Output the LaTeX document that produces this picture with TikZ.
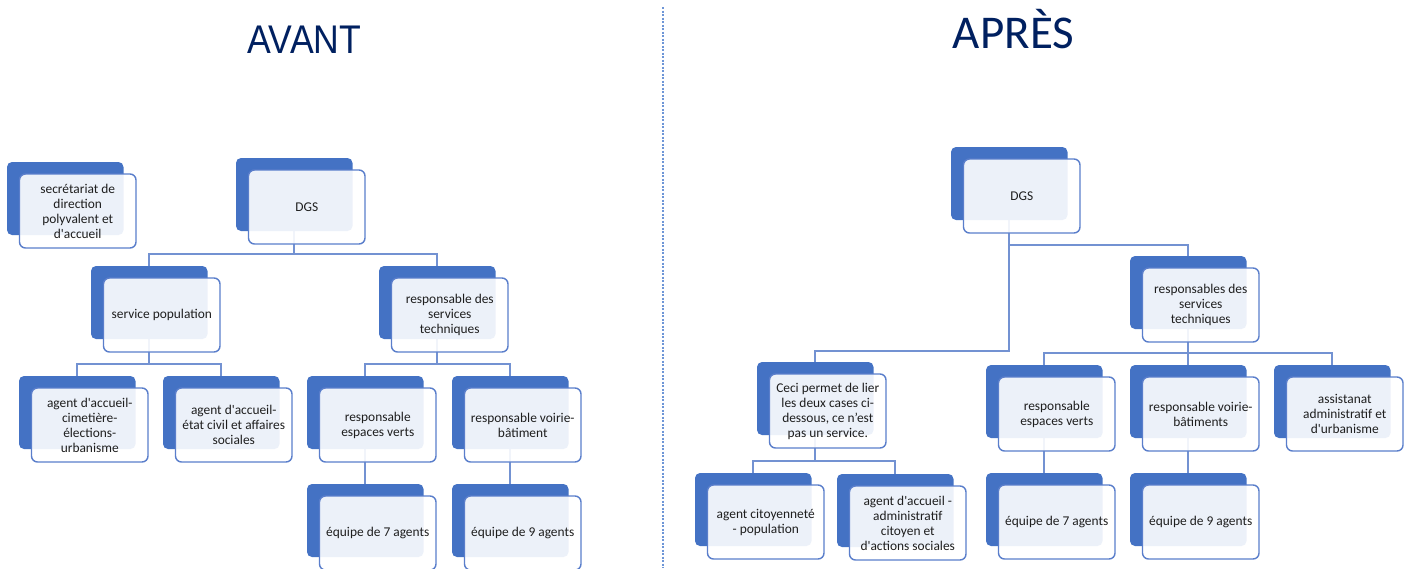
\documentclass[tikz,border=0pt]{standalone}
\usepackage{fontspec}
\setmainfont{Carlito}
\newfontfamily\titlefont{Liberation Sans}[FakeStretch=0.89]
\usetikzlibrary{backgrounds}
\definecolor{accent}{RGB}{68,114,196}
\definecolor{frontline}{RGB}{90,126,203}
\definecolor{conn}{RGB}{115,146,210}
\definecolor{navy}{RGB}{0,32,96}
\definecolor{txt}{RGB}{30,30,30}
\definecolor{divider}{RGB}{110,150,215}
\newcommand\orgbox[4]{%
  \node[backbox] (#1) at (#2,#3) {};
  \node[frontbox] (#1f) at ([xshift=12.5pt,yshift=-12pt]#1.north west) {#4};
}
\begin{document}
\begin{tikzpicture}[x=1pt,y=-1pt,
  backbox/.style={draw=none,fill=accent,rounded corners=5pt,minimum width=116.5pt,minimum height=73pt,anchor=north west,inner sep=0pt,outer sep=0pt},
  frontbox/.style={draw=frontline,line width=1.4pt,fill=white,fill opacity=0.9,text opacity=1,rounded corners=6pt,minimum width=116.5pt,minimum height=74pt,anchor=north west,inner sep=0pt,outer sep=0pt,text=txt,font=\fontsize{13.4}{15}\selectfont,align=center},
  link/.style={draw=conn,line width=1.6pt},
  title/.style={text=navy,anchor=base,inner sep=0pt}]
\useasboundingbox (0,0) rectangle (1411,568);

% titles and divider
\node[title,font=\titlefont\fontsize{40}{40}\selectfont] (avant) at (304.5,53) {AVANT};
\node[title,font=\fontsize{47}{47}\selectfont] (apres) at (1013.5,48) {APRÈS};
\coordinate (divtop) at (663,7);
\coordinate (divbot) at (663,568);
\draw[divider,line width=1.2pt,dash pattern=on 2pt off 1.5pt] (divtop) -- (divbot);

% AVANT
\orgbox{secL}{7}{162}{secrétariat de\\direction\\polyvalent et\\d\textquotesingle{}accueil}
\orgbox{dgsL}{236}{158}{DGS}
\orgbox{popL}{91}{266}{service population}
\orgbox{rstL}{379}{266}{responsable des\\services\\techniques}
\orgbox{agA}{19}{376}{agent d\textquotesingle{}accueil-\\cimetière-\\élections-\\urbanisme}
\orgbox{agB}{163}{376}{agent d\textquotesingle{}accueil-\\état civil et affaires\\sociales}
\orgbox{revL}{307}{376}{responsable\\espaces verts}
\orgbox{rvbL}{452}{376}{responsable voirie-\\bâtiment}
\orgbox{eqsL}{307}{484}{équipe de 7 agents}
\orgbox{eqnL}{452}{484}{équipe de 9 agents}

% APRES
\orgbox{dgsR}{951}{147}{DGS}
\orgbox{rstR}{1130}{256}{responsables des\\services\\techniques}
\orgbox{ceci}{757}{362}{Ceci permet de lier\\les deux cases ci-\\dessous, ce n’est\\pas un service.}
\orgbox{cit}{695}{473}{agent citoyenneté\\- population}
\orgbox{acc}{837}{474}{agent d\textquotesingle{}accueil -\\administratif\\citoyen et\\d\textquotesingle{}actions sociales}
\orgbox{revR}{986}{365}{responsable\\espaces verts}
\orgbox{rvbR}{1130}{365}{responsable voirie-\\bâtiments}
\orgbox{asR}{1274}{365}{assistanat\\administratif et\\d\textquotesingle{}urbanisme}
\orgbox{eqsR}{986}{473}{équipe de 7 agents}
\orgbox{eqnR}{1130}{473}{équipe de 9 agents}

\coordinate (hLa) at (0,254);
\coordinate (hLb) at (0,364);
\coordinate (hRa) at (0,245);
\coordinate (hRb) at (0,351);
\coordinate (hRc) at (0,353);
\coordinate (hRd) at (0,461);

\begin{scope}[on background layer]
\fill[white] (0,0) rectangle (1411,568);
% AVANT connectors
\draw[link] (dgsL.south) -- (dgsL.south |- hLa);
\draw[link] (popL.north) -- (popL.north |- hLa) -- (rstL.north |- hLa) -- (rstL.north);
\draw[link] (popL.south) -- (popL.south |- hLb);
\draw[link] (agA.north) -- (agA.north |- hLb) -- (agB.north |- hLb) -- (agB.north);
\draw[link] (rstL.south) -- (rstL.south |- hLb);
\draw[link] (revL.north) -- (revL.north |- hLb) -- (rvbL.north |- hLb) -- (rvbL.north);
\draw[link] (revL.south) -- (eqsL.north);
\draw[link] (rvbL.south) -- (eqnL.north);
% APRES connectors
\draw[link] (dgsR.south) -- (dgsR.south |- hRb) -- (ceci.north |- hRb) -- (ceci.north);
\draw[link] (dgsR.south |- hRa) -- (rstR.north |- hRa) -- (rstR.north);
\draw[link] (rstR.south) -- (rstR.south |- hRc);
\draw[link] (revR.north) -- (revR.north |- hRc) -- (asR.north |- hRc) -- (asR.north);
\draw[link] (rvbR.north) -- (rvbR.north |- hRc);
\draw[link] (ceci.south) -- (ceci.south |- hRd);
\draw[link] (cit.north) -- (cit.north |- hRd) -- (acc.north |- hRd) -- (acc.north);
\draw[link] (revR.south) -- (eqsR.north);
\draw[link] (rvbR.south) -- (eqnR.north);
\end{scope}
\end{tikzpicture}
\end{document}
